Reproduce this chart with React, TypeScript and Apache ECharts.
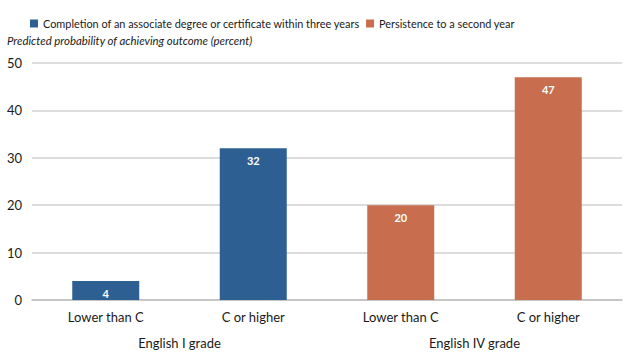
import React, { useEffect, useRef } from "react";
import * as echarts from "echarts";

const categories = ["Lower than C", "C or higher", "Lower than C", "C or higher"];
const groups = ["English I grade", "English IV grade"];
const completion = [4, 32, null, null];
const persistence = [null, null, 20, 47];
const seriesNames = [
  "Completion of an associate degree or certificate within three years",
  "Persistence to a second year",
];
const yTicks = { min: 0, max: 50, interval: 10 };

const FONT = "Lato, 'Open Sans', sans-serif";

export default function App() {
  const ref = useRef<HTMLDivElement>(null);
  useEffect(() => {
    document.body.style.margin = "0";
    if (!ref.current) return;
    const chart = echarts.init(ref.current, null, { renderer: "svg" });
    chart.setOption({
      animation: false,
      textStyle: { fontFamily: FONT },
      legend: {
        top: 13,
        left: 25,
        itemWidth: 8,
        itemHeight: 8,
        itemGap: 6,
        icon: "rect",
        textStyle: { fontSize: 10.9, color: "#1a1a1a", fontFamily: FONT },
        data: seriesNames,
      },
      graphic: [
        {
          type: "text",
          left: 7,
          top: 35,
          style: {
            text: "Predicted probability of achieving outcome (percent)",
            fontSize: 11.4,
            fontStyle: "italic",
            fill: "#1a1a1a",
            fontFamily: FONT,
          },
        },
      ],
      grid: { left: 32, right: 10, top: 63, bottom: 60 },
      xAxis: [
        {
          type: "category",
          data: categories,
          axisLine: { lineStyle: { color: "#BFBFBF", width: 1.5 } },
          axisTick: { show: false },
          axisLabel: { fontSize: 13, color: "#1a1a1a", margin: 10, fontFamily: FONT },
        },
        {
          type: "category",
          data: groups,
          position: "bottom",
          offset: 26,
          axisLine: { show: false },
          axisTick: { show: false },
          axisLabel: { fontSize: 13, color: "#1a1a1a", margin: 10, fontFamily: FONT },
        },
      ],
      yAxis: {
        type: "value",
        min: yTicks.min,
        max: yTicks.max,
        interval: yTicks.interval,
        axisLine: { show: false },
        axisTick: { show: false },
        splitLine: { lineStyle: { color: "#D0D0D0", width: 1.5 } },
        axisLabel: { fontSize: 13, color: "#1a1a1a", margin: 10, fontFamily: FONT },
      },
      series: [
        {
          name: seriesNames[0],
          type: "bar",
          stack: "s",
          data: completion,
          barWidth: 67,
          itemStyle: { color: "#2E5F93" },
          label: {
            show: true,
            position: "insideTop",
            distance: 7,
            color: "#fff",
            fontWeight: "bold",
            fontSize: 11,
            fontFamily: FONT,
          },
        },
        {
          name: seriesNames[1],
          type: "bar",
          stack: "s",
          data: persistence,
          barWidth: 67,
          itemStyle: { color: "#C86D4D" },
          label: {
            show: true,
            position: "insideTop",
            distance: 7,
            color: "#fff",
            fontWeight: "bold",
            fontSize: 11,
            fontFamily: FONT,
          },
        },
      ],
    });
    return () => chart.dispose();
  }, []);
  return <div ref={ref} style={{ width: 632, height: 360 }} />;
}
